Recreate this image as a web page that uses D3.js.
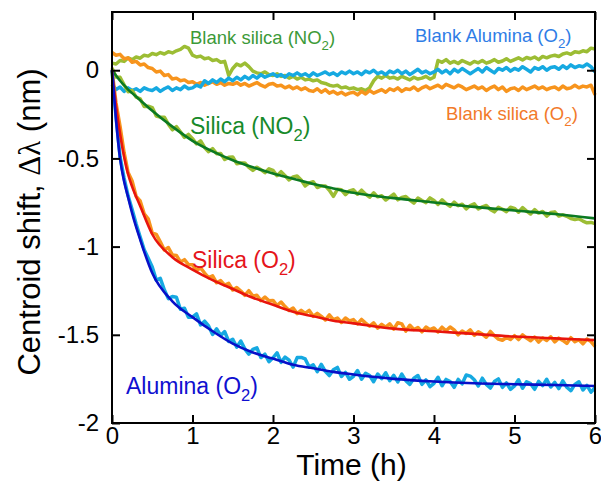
<!DOCTYPE html>
<html lang="en">
<head>
<meta charset="utf-8">
<title>Centroid shift vs time</title>
<script src="https://d3js.org/d3.v7.min.js"></script>
<style>
  body { margin: 0; background: #fff; }
  text { font-family: "Liberation Sans", Arial, Helvetica, sans-serif; }
</style>
</head>
<body>
<script>
// sampling of the measured traces (h)
var dataStep = 0.05;

// measured traces, one value every 0.05 h from 0 to 6 h (nm)
var silicaNO2Data = [
  0.012, -0.038, -0.040, -0.083, -0.122, -0.115, -0.153, -0.162, -0.206, -0.204,
  -0.212, -0.260, -0.266, -0.266, -0.306, -0.338, -0.320, -0.349, -0.381, -0.364,
  -0.388, -0.418, -0.400, -0.438, -0.462, -0.445, -0.473, -0.472, -0.506, -0.494,
  -0.492, -0.530, -0.526, -0.526, -0.551, -0.568, -0.550, -0.564, -0.581, -0.559,
  -0.568, -0.598, -0.575, -0.598, -0.622, -0.605, -0.600, -0.622, -0.656, -0.639,
  -0.632, -0.665, -0.656, -0.656, -0.681, -0.715, -0.675, -0.678, -0.706, -0.684,
  -0.678, -0.703, -0.680, -0.703, -0.720, -0.695, -0.718, -0.712, -0.736, -0.719,
  -0.702, -0.735, -0.721, -0.716, -0.736, -0.753, -0.725, -0.739, -0.751, -0.724,
  -0.738, -0.761, -0.735, -0.756, -0.772, -0.748, -0.768, -0.760, -0.786, -0.767,
  -0.757, -0.787, -0.775, -0.767, -0.789, -0.803, -0.777, -0.788, -0.802, -0.777,
  -0.783, -0.805, -0.779, -0.799, -0.815, -0.790, -0.810, -0.801, -0.827, -0.807,
  -0.803, -0.827, -0.820, -0.828, -0.841, -0.847, -0.842, -0.855, -0.865, -0.863,
  -0.870
];
var silicaO2Data = [
  0.000, -0.186, -0.318, -0.466, -0.580, -0.628, -0.715, -0.741, -0.814, -0.842,
  -0.923, -0.931, -0.973, -1.019, -1.005, -1.047, -1.050, -1.087, -1.074, -1.102,
  -1.103, -1.136, -1.120, -1.150, -1.176, -1.166, -1.205, -1.193, -1.218, -1.208,
  -1.246, -1.232, -1.252, -1.276, -1.250, -1.280, -1.276, -1.306, -1.286, -1.307,
  -1.305, -1.334, -1.314, -1.340, -1.362, -1.348, -1.380, -1.361, -1.379, -1.362,
  -1.395, -1.378, -1.395, -1.416, -1.387, -1.414, -1.405, -1.430, -1.405, -1.421,
  -1.414, -1.438, -1.413, -1.434, -1.451, -1.432, -1.462, -1.441, -1.457, -1.438,
  -1.468, -1.432, -1.438, -1.479, -1.446, -1.470, -1.459, -1.483, -1.456, -1.471,
  -1.461, -1.484, -1.457, -1.477, -1.456, -1.472, -1.500, -1.478, -1.492, -1.472,
  -1.503, -1.483, -1.496, -1.514, -1.481, -1.505, -1.524, -1.531, -1.515, -1.527,
  -1.505, -1.527, -1.500, -1.519, -1.534, -1.513, -1.541, -1.518, -1.532, -1.511,
  -1.540, -1.519, -1.532, -1.549, -1.516, -1.539, -1.528, -1.551, -1.524, -1.538,
  -1.565
];
var aluminaO2Data = [
  0.000, -0.265, -0.490, -0.612, -0.712, -0.790, -0.872, -0.945, -1.018, -1.066,
  -1.115, -1.190, -1.180, -1.245, -1.295, -1.283, -1.287, -1.355, -1.349, -1.400,
  -1.400, -1.381, -1.444, -1.423, -1.450, -1.498, -1.466, -1.504, -1.482, -1.538,
  -1.525, -1.570, -1.535, -1.580, -1.610, -1.583, -1.574, -1.629, -1.610, -1.653,
  -1.630, -1.602, -1.656, -1.626, -1.644, -1.683, -1.629, -1.628, -1.637, -1.683,
  -1.670, -1.709, -1.668, -1.707, -1.731, -1.698, -1.685, -1.736, -1.713, -1.752,
  -1.735, -1.703, -1.752, -1.718, -1.731, -1.766, -1.722, -1.749, -1.715, -1.760,
  -1.730, -1.767, -1.723, -1.760, -1.781, -1.746, -1.731, -1.781, -1.756, -1.794,
  -1.775, -1.741, -1.789, -1.753, -1.765, -1.798, -1.753, -1.778, -1.728, -1.734,
  -1.755, -1.790, -1.746, -1.781, -1.802, -1.765, -1.750, -1.798, -1.773, -1.809,
  -1.790, -1.755, -1.803, -1.766, -1.777, -1.809, -1.764, -1.788, -1.752, -1.796,
  -1.770, -1.805, -1.761, -1.797, -1.817, -1.781, -1.766, -1.813, -1.787, -1.825,
  -1.800
];
var blankSilicaNO2 = [
  0.040, 0.035, 0.055, 0.050, 0.070, 0.060, 0.075, 0.068, 0.085, 0.080,
  0.095, 0.088, 0.100, 0.092, 0.105, 0.098, 0.110, 0.118, 0.135, 0.125,
  0.085, 0.075, 0.080, 0.065, 0.070, 0.055, 0.060, 0.045, 0.050, -0.030,
  0.010, 0.035, 0.025, 0.040, 0.020, -0.005, -0.015, -0.020, -0.010, -0.025,
  -0.030, -0.020, -0.035, -0.030, -0.045, -0.035, -0.050, -0.040, -0.055, -0.050,
  -0.060, -0.055, -0.070, -0.075, -0.085, -0.090, -0.085, -0.100, -0.095, -0.105,
  -0.100, -0.110, -0.105, -0.115, -0.100, -0.060, -0.035, -0.045, -0.030, -0.045,
  -0.040, -0.050, -0.035, -0.045, -0.055, -0.040, -0.050, -0.045, -0.035, -0.050,
  -0.040, 0.055, 0.045, 0.060, 0.040, 0.050, 0.038, 0.055, 0.045, 0.035,
  0.050, 0.042, 0.055, 0.040, 0.048, 0.060, 0.045, 0.052, 0.065, 0.050,
  0.060, 0.070, 0.058, 0.072, 0.065, 0.075, 0.060, 0.078, 0.070, 0.080,
  0.085, 0.078, 0.092, 0.098, 0.090, 0.105, 0.100, 0.110, 0.105, 0.125,
  0.120
];
var blankAluminaO2 = [
  -0.080, -0.110, -0.095, -0.120, -0.100, -0.115, -0.105, -0.120, -0.100, -0.110,
  -0.115, -0.100, -0.120, -0.105, -0.095, -0.115, -0.100, -0.110, -0.090, -0.105,
  -0.100, -0.085, -0.095, -0.060, -0.075, -0.055, -0.070, -0.050, -0.065, -0.045,
  -0.060, -0.040, -0.055, -0.035, -0.050, -0.030, -0.045, -0.025, -0.040, -0.030,
  -0.020, -0.035, -0.025, -0.040, -0.020, -0.030, -0.015, -0.030, -0.020, -0.035,
  -0.015, -0.030, -0.020, -0.010, -0.025, -0.015, -0.030, -0.010, -0.020, -0.005,
  -0.020, -0.010, -0.025, -0.005, -0.015, 0.000, -0.020, -0.010, -0.025, -0.005,
  -0.015, 0.000, -0.020, -0.005, -0.025, -0.010, 0.005, -0.015, -0.005, -0.020,
  -0.010, 0.005, -0.015, 0.000, -0.020, 0.005, -0.010, 0.010, -0.005, -0.020,
  -0.005, 0.010, -0.010, 0.015, 0.000, -0.015, 0.010, 0.000, 0.015, -0.005,
  0.010, 0.000, 0.020, 0.005, -0.010, 0.015, 0.005, 0.020, 0.000, 0.015,
  0.020, 0.005, 0.025, 0.010, 0.030, 0.015, 0.025, 0.020, 0.035, 0.020,
  -0.010
];
var blankSilicaO2 = [
  0.100, 0.085, 0.090, 0.065, 0.070, 0.045, 0.050, 0.030, 0.035, 0.015,
  0.010, -0.010, -0.005, -0.030, -0.025, -0.050, -0.045, -0.060, -0.055, -0.070,
  -0.065, -0.080, -0.070, -0.085, -0.075, -0.065, -0.080, -0.070, -0.085, -0.075,
  -0.080, -0.070, -0.085, -0.075, -0.090, -0.080, -0.070, -0.085, -0.095, -0.080,
  -0.075, -0.090, -0.085, -0.100, -0.090, -0.105, -0.095, -0.110, -0.100, -0.115,
  -0.120, -0.105, -0.125, -0.110, -0.130, -0.120, -0.135, -0.125, -0.140, -0.130,
  -0.125, -0.140, -0.120, -0.135, -0.115, -0.130, -0.120, -0.110, -0.125, -0.105,
  -0.115, -0.100, -0.120, -0.105, -0.110, -0.095, -0.115, -0.100, -0.090, -0.105,
  -0.095, -0.085, -0.100, -0.080, -0.090, -0.100, -0.085, -0.095, -0.110, -0.100,
  -0.090, -0.105, -0.095, -0.115, -0.100, -0.090, -0.110, -0.095, -0.120, -0.105,
  -0.100, -0.115, -0.095, -0.110, -0.100, -0.090, -0.105, -0.095, -0.110, -0.100,
  -0.095, -0.110, -0.090, -0.105, -0.100, -0.085, -0.100, -0.090, -0.095, -0.085,
  -0.140
];

// fitted curves
var fitTimes = [0, 0.05, 0.1, 0.15, 0.2, 0.25, 0.35, 0.5, 0.75, 1, 1.25, 1.5, 1.75,
                2, 2.25, 2.5, 2.75, 3, 3.5, 4, 4.5, 5, 5.5, 6];
var silicaNO2Fit = [0, -0.03, -0.06, -0.085, -0.11, -0.13, -0.17, -0.23, -0.32, -0.40, -0.46, -0.51, -0.55,
                    -0.585, -0.615, -0.645, -0.67, -0.695, -0.725, -0.75, -0.775, -0.795, -0.815, -0.84];
var silicaO2Fit = [0, -0.2, -0.36, -0.49, -0.59, -0.66, -0.77, -0.93, -1.06, -1.13, -1.19, -1.24, -1.29,
                   -1.33, -1.37, -1.395, -1.42, -1.435, -1.465, -1.48, -1.495, -1.51, -1.52, -1.53];
var aluminaO2Fit = [0, -0.28, -0.5, -0.63, -0.72, -0.81, -0.96, -1.15, -1.31, -1.40, -1.48, -1.55, -1.60,
                    -1.635, -1.67, -1.69, -1.71, -1.725, -1.75, -1.765, -1.775, -1.78, -1.785, -1.79];

var xTicks = [0, 1, 2, 3, 4, 5, 6];
var yTicks = [0, -0.5, -1, -1.5, -2];

drawChart();

function drawChart() {
    // plot box
    var w = 601, h = 482;
    var pLeft = 112, pRight = 595, pTop = 12, pBottom = 423;

    var svg = d3.select("body").append("svg")
        .attr("width", w)
        .attr("height", h);

    var x = d3.scaleLinear().domain([0, 6]).range([pLeft, pRight]);
    var y = d3.scaleLinear().domain([-2, 0.33]).range([pBottom, pTop]);

    var traceLine = d3.line()
        .x(function(d, i) { return x(i * dataStep); })
        .y(function(d) { return y(d); });
    var fitLine = d3.line()
        .x(function(d, i) { return x(fitTimes[i]); })
        .y(function(d) { return y(d); })
        .curve(d3.curveMonotoneX);

    // measured traces
    var traces = [
        { v: blankSilicaNO2, c: "#9cbd34" },
        { v: blankSilicaO2, c: "#f7941d" },
        { v: blankAluminaO2, c: "#16a9e1" },
        { v: silicaNO2Data, c: "#9cbd34" },
        { v: silicaO2Data, c: "#f7941d" },
        { v: aluminaO2Data, c: "#16a9e1" }
    ];
    traces.forEach(function(t) {
        svg.append("path")
            .attr("d", traceLine(t.v))
            .attr("fill", "none")
            .attr("stroke", t.c)
            .attr("stroke-width", 3.5)
            .attr("stroke-linejoin", "round");
    });

    // fits
    [[silicaNO2Fit, "#0b7a22"], [silicaO2Fit, "#e8150d"], [aluminaO2Fit, "#0810c8"]].forEach(function(f) {
        svg.append("path")
            .attr("d", fitLine(f[0]))
            .attr("fill", "none")
            .attr("stroke", f[1])
            .attr("stroke-width", 2.6);
    });

    // frame + ticks on all four sides
    svg.append("rect")
        .attr("x", pLeft).attr("y", pTop)
        .attr("width", pRight - pLeft).attr("height", pBottom - pTop)
        .attr("fill", "none").attr("stroke", "black").attr("stroke-width", 2);

    function styleAxis(g, labels) {
        g.select(".domain").remove();
        g.selectAll(".tick line").attr("stroke", "black").attr("stroke-width", 2);
        if (labels) {
            g.selectAll(".tick text").attr("font-size", 24).attr("fill", "black")
                .attr("font-family", "'Liberation Sans', Arial, sans-serif");
        } else {
            g.selectAll(".tick text").remove();
        }
    }
    svg.append("g").attr("transform", "translate(0," + pBottom + ")")
        .call(d3.axisBottom(x).tickValues(xTicks).tickSize(-8).tickPadding(4).tickFormat(d3.format("d")))
        .call(function(g) { styleAxis(g, true); });
    svg.append("g").attr("transform", "translate(0," + pTop + ")")
        .call(d3.axisTop(x).tickValues(xTicks).tickSize(-8))
        .call(function(g) { styleAxis(g, false); });
    svg.append("g").attr("transform", "translate(" + pLeft + ",0)")
        .call(d3.axisLeft(y).tickValues(yTicks).tickSize(-8).tickPadding(13)
            .tickFormat(function(d) { return String(d); }))
        .call(function(g) { styleAxis(g, true); });
    svg.append("g").attr("transform", "translate(" + pRight + ",0)")
        .call(d3.axisRight(y).tickValues(yTicks).tickSize(-8))
        .call(function(g) { styleAxis(g, false); });

    // axis titles
    svg.append("text")
        .attr("x", (pLeft + pRight) / 2 - 2).attr("y", 475)
        .attr("text-anchor", "middle")
        .attr("font-size", 30)
        .text("Time (h)");

    var yt = svg.append("text")
        .attr("transform", "translate(40,222) rotate(-90)")
        .attr("text-anchor", "middle")
        .attr("font-size", 31);
    yt.append("tspan").text("Centroid shift, ");
    yt.append("tspan").attr("font-family", "'Liberation Serif', 'Times New Roman', serif").text("\u0394\u03bb");
    yt.append("tspan").text(" (nm)");

    // annotations with subscript 2
    var labels = [
        { t: "Blank silica (NO", x: 190, y: 44, s: 18.5, c: "#3c9a38" },
        { t: "Blank Alumina (O", x: 415, y: 42, s: 18.5, c: "#2f7de6" },
        { t: "Blank silica (O", x: 446, y: 120, s: 18.5, c: "#f27a2a" },
        { t: "Silica (NO", x: 190, y: 134, s: 23, c: "#178a2a" },
        { t: "Silica (O", x: 192, y: 268, s: 23, c: "#e5141b" },
        { t: "Alumina (O", x: 126, y: 394, s: 23, c: "#1010d0" }
    ];
    labels.forEach(function(l) {
        var t = svg.append("text")
            .attr("x", l.x).attr("y", l.y)
            .attr("font-size", l.s)
            .attr("fill", l.c);
        t.append("tspan").text(l.t);
        t.append("tspan").attr("font-size", l.s * 0.72).attr("dy", l.s * 0.3).text("2");
        t.append("tspan").attr("dy", -l.s * 0.3).text(")");
    });
}
</script>
</body>
</html>
